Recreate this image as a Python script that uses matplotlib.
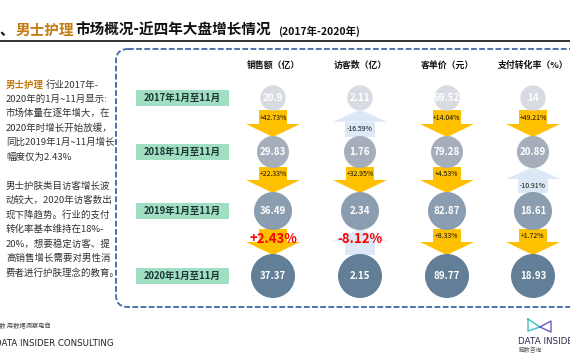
import matplotlib.pyplot as plt
from matplotlib.patches import Rectangle, Polygon, Circle, FancyBboxPatch

plt.rcParams['font.family'] = ['Noto Sans CJK SC', 'DejaVu Sans']

# data
periods = ['2017年1月至11月', '2018年1月至11月', '2019年1月至11月', '2020年1月至11月']
metrics = ['销售额（亿）', '访客数（亿）', '客单价（元）', '支付转化率（%）']
sales = [20.9, 29.83, 36.49, 37.37]
visitors = [2.11, 1.76, 2.34, 2.15]
unit_price = [69.52, 79.28, 82.87, 89.77]
conversion = [14, 20.89, 18.61, 18.93]
sales_growth = [42.73, 22.33, 2.43]
visitors_growth = [-16.59, 32.95, -8.12]
price_growth = [14.04, 4.53, 8.33]
conversion_growth = [49.21, -10.91, 1.72]
highlight = [(2, 0), (2, 1)]  # (transition, column) shown in big red

values = [sales, visitors, unit_price, conversion]
growths = [sales_growth, visitors_growth, price_growth, conversion_growth]

para1 = ['行业2017年-', '2020年的1月~11月显示:', '市场体量在逐年增大，在',
         '2020年时增长开始放缓，', '同比2019年1月~11月增长', '幅度仅为2.43%']
para2 = ['男士护肤类目访客增长波', '动较大，2020年访客数出', '现下降趋势。行业的支付',
         '转化率基本维持在18%-', '20%，想要稳定访客、提', '高销售增长需要对男性消',
         '费者进行护肤理念的教育。']

# layout
col_x = [273, 360, 447, 533]
row_y = [98, 152, 211, 276]
radii = [12.7, 16, 19, 22]
circle_colors = ['#d8dbe2', '#a6aebc', '#8b9db0', '#627f97']
orange = '#ffc000'
pale = '#dde8f7'

fig = plt.figure(figsize=(5.7, 3.6), dpi=100)
ax = fig.add_axes([0, 0, 1, 1])
ax.set_xlim(0, 570)
ax.set_ylim(360, 0)
ax.axis('off')

# title
ax.text(-1, 30, '、', fontsize=10.5, fontweight='bold', va='center', color='#111111')
ax.text(16, 30, '男士护理', fontsize=10.5, fontweight='bold', va='center', color='#c47b12')
ax.text(75, 30, '市场概况-近四年大盘增长情况', fontsize=10.5, fontweight='bold',
        va='center', color='#111111')
ax.text(278, 31, '(2017年-2020年)', fontsize=7.5, fontweight='bold', va='center', color='#111111')
ax.plot([0, 570], [41, 41], color='#111111', lw=1.2)

# dashed panel
ax.add_patch(FancyBboxPatch((116, 49), 480, 258, boxstyle='round,pad=0,rounding_size=12',
                            fill=False, ec='#4f71a8', lw=1.4, ls=(0, (3, 1.2))))

# left text
ax.text(6, 85, '男士护理', fontsize=6.8, fontweight='bold', color='#c47b12', va='center')
ax.text(46, 85, para1[0], fontsize=6.8, color='#333333', va='center')
for i, line in enumerate(para1[1:]):
    ax.text(6, 99 + i * 14.5, line, fontsize=6.8, color='#333333', va='center')
for i, line in enumerate(para2):
    ax.text(6, 186 + i * 14.5, line, fontsize=6.8, color='#333333', va='center')

ax.text(-7, 326, '解数 用数据洞察电商', fontsize=4.5, color='#444444', va='center')
ax.text(-5, 343, 'DATA INSIDER CONSULTING', fontsize=6.2, color='#222222', va='center',
        family='DejaVu Sans')

# logo bottom right
ax.plot([528, 540, 528, 528], [319, 327, 331, 319], color='#3fc1c0', lw=1)
ax.plot([540, 551, 551, 540], [327, 321, 332, 327], color='#6a5acd', lw=1)
ax.text(518, 342, 'DATA INSIDER', fontsize=6.3, color='#2b2f4a', va='center', family='DejaVu Sans')
ax.text(519, 350, '解数咨询', fontsize=4.2, color='#555555', va='center')

# headers
for x, name in zip(col_x, metrics):
    ax.text(x, 65, name, fontsize=6.4, fontweight='bold', ha='center', va='center', color='#111111')

# row labels
for y, p in zip(row_y, periods):
    ax.add_patch(Rectangle((136, y - 8), 93, 16, fc='#a0dfc3', ec='none'))
    ax.text(182.5, y, p, fontsize=6.8, fontweight='bold', ha='center', va='center', color='#1f3535')

# arrows
for j, x in enumerate(col_x):
    for i, g in enumerate(growths[j]):
        top = row_y[i] + radii[i] - 1
        bot = row_y[i + 1] - radii[i + 1] + 1
        big = (i, j) in highlight
        if g >= 0:
            head = 13
            ax.add_patch(Rectangle((x - 14, top), 28, bot - head - top, fc=orange, ec='none', zorder=1))
            ax.add_patch(Polygon([(x - 27, bot - head), (x + 27, bot - head), (x, bot)],
                                 fc=orange, ec='none', zorder=1))
            ly = top + (bot - head - top) / 2 + 1
        else:
            head = 12
            ax.add_patch(Polygon([(x - 27, top + head), (x + 27, top + head), (x, top)],
                                 fc=pale, ec='none', zorder=1))
            ax.add_patch(Rectangle((x - 15, top + head), 30, bot - top - head, fc=pale, ec='none', zorder=1))
            ly = top + head + (bot - top - head) / 2
        label = f'{g:+.2f}%'
        if big:
            ax.text(x, top + 10, label, fontsize=9.5, fontweight='bold', color='#ff0000',
                    ha='center', va='center', zorder=5)
        else:
            ax.text(x, ly, label, fontsize=5, color='#111111', ha='center', va='center', zorder=5)

# circles
for j, x in enumerate(col_x):
    for i, y in enumerate(row_y):
        ax.add_patch(Circle((x, y), radii[i], fc=circle_colors[i], ec='none', zorder=3))
        ax.text(x, y, f'{values[j][i]:g}', fontsize=7, fontweight='bold', color='white',
                ha='center', va='center', zorder=4)

fig.savefig('out.png', dpi=100)
